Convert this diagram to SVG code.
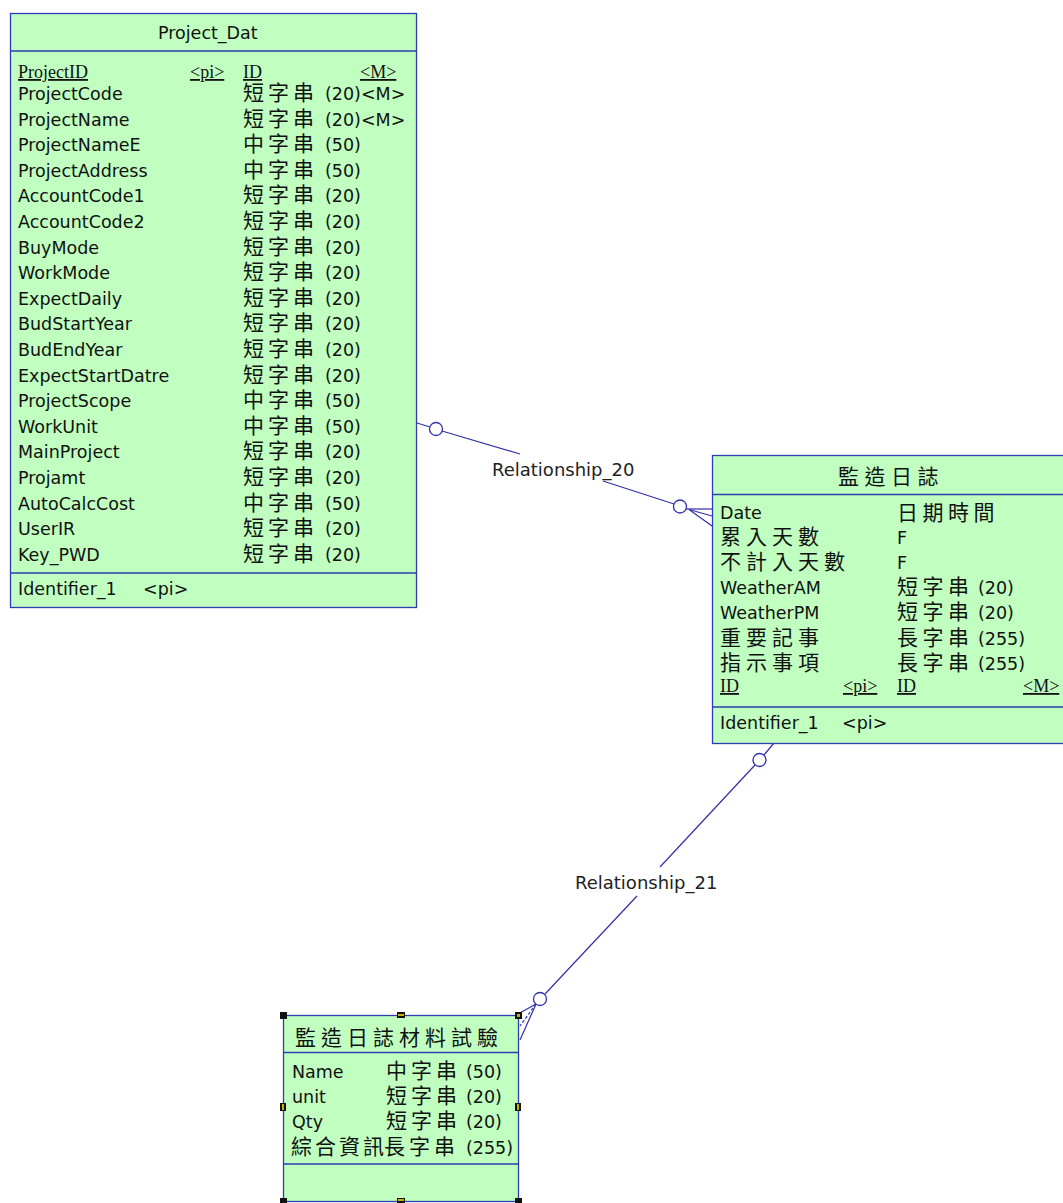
<svg xmlns="http://www.w3.org/2000/svg" width="1063" height="1203" viewBox="0 0 1063 1203">
<style>
.box{fill:#C0FFC0;stroke:#2E3CB4;stroke-width:1.3}
.div{stroke:#2E3CB4;stroke-width:1.3}
.t{font-family:"DejaVu Sans","Liberation Sans",sans-serif;font-size:17.5px;fill:#111}
.lbl{font-family:"DejaVu Sans","Liberation Sans",sans-serif;font-size:18px;fill:#222}
.cj{font-family:"Noto Sans CJK TC","Noto Sans CJK SC",sans-serif;font-size:21px;fill:#111;letter-spacing:4px}
.cjt{font-family:"Noto Sans CJK TC","Noto Sans CJK SC",sans-serif;font-size:21px;fill:#111;letter-spacing:5.5px}
.u{font-family:"Liberation Serif","DejaVu Serif",serif;font-size:18px;fill:#111;text-decoration:underline}
.ln{stroke:#3030A8;stroke-width:1.2;fill:none}
.ring{stroke:#3030A8;stroke-width:1.3;fill:#fff}
.hd{fill:#111}
.hy{fill:#C8B400}
</style>

<g id="connectors">
  <g id="rel20">
    <line class="ln" x1="417" y1="423" x2="430" y2="427"/>
    <line class="ln" x1="442" y1="431" x2="520" y2="454"/>
    <circle class="ring" cx="436" cy="429" r="6.5"/>
    <line class="ln" x1="603" y1="481" x2="674" y2="504"/>
    <circle class="ring" cx="680" cy="506.5" r="6.5"/>
    <line class="ln" x1="686" y1="509" x2="712" y2="509"/>
    <line class="ln" x1="689" y1="509.5" x2="712" y2="516"/>
    <line class="ln" x1="689" y1="509.5" x2="712" y2="526"/>
    <text class="lbl" x="492" y="476">Relationship_20</text>
  </g>
  <g id="rel21">
    <line class="ln" x1="774" y1="743" x2="764" y2="755"/>
    <circle class="ring" cx="759.5" cy="760" r="6.5"/>
    <line class="ln" x1="755" y1="765" x2="660" y2="867"/>
    <line class="ln" x1="637" y1="896" x2="545" y2="994"/>
    <circle class="ring" cx="540" cy="999" r="6.5"/>
    <line class="ln" x1="536" y1="1004" x2="518" y2="1014"/>
    <line class="ln" x1="536" y1="1004" x2="520" y2="1026" stroke-dasharray="3 2"/>
    <line class="ln" x1="536" y1="1004" x2="520" y2="1040"/>
    <text class="lbl" x="575" y="889">Relationship_21</text>
  </g>
</g>

<g id="node-project-dat">
  <rect class="box" x="10.5" y="13.5" width="406" height="594"/>
  <line class="div" x1="10.5" y1="51" x2="416.5" y2="51"/>
  <line class="div" x1="10.5" y1="573" x2="416.5" y2="573"/>
  <text class="t" x="158" y="38.5">Project_Dat</text>
  <text class="u" x="18" y="78">ProjectID</text>
  <text class="u" x="190" y="78">&lt;pi&gt;</text>
  <text class="u" x="243" y="78">ID</text>
  <text class="u" x="360" y="78">&lt;M&gt;</text>

  <text class="t" x="18" y="100">ProjectCode</text><text class="cj" x="243" y="100">短字串</text><text class="t" x="325" y="100">(20)&lt;M&gt;</text>
  <text class="t" x="18" y="125.6">ProjectName</text><text class="cj" x="243" y="125.6">短字串</text><text class="t" x="325" y="125.6">(20)&lt;M&gt;</text>
  <text class="t" x="18" y="151.2">ProjectNameE</text><text class="cj" x="243" y="151.2">中字串</text><text class="t" x="325" y="151.2">(50)</text>
  <text class="t" x="18" y="176.8">ProjectAddress</text><text class="cj" x="243" y="176.8">中字串</text><text class="t" x="325" y="176.8">(50)</text>
  <text class="t" x="18" y="202.4">AccountCode1</text><text class="cj" x="243" y="202.4">短字串</text><text class="t" x="325" y="202.4">(20)</text>
  <text class="t" x="18" y="228">AccountCode2</text><text class="cj" x="243" y="228">短字串</text><text class="t" x="325" y="228">(20)</text>
  <text class="t" x="18" y="253.6">BuyMode</text><text class="cj" x="243" y="253.6">短字串</text><text class="t" x="325" y="253.6">(20)</text>
  <text class="t" x="18" y="279.2">WorkMode</text><text class="cj" x="243" y="279.2">短字串</text><text class="t" x="325" y="279.2">(20)</text>
  <text class="t" x="18" y="304.8">ExpectDaily</text><text class="cj" x="243" y="304.8">短字串</text><text class="t" x="325" y="304.8">(20)</text>
  <text class="t" x="18" y="330.4">BudStartYear</text><text class="cj" x="243" y="330.4">短字串</text><text class="t" x="325" y="330.4">(20)</text>
  <text class="t" x="18" y="356">BudEndYear</text><text class="cj" x="243" y="356">短字串</text><text class="t" x="325" y="356">(20)</text>
  <text class="t" x="18" y="381.6">ExpectStartDatre</text><text class="cj" x="243" y="381.6">短字串</text><text class="t" x="325" y="381.6">(20)</text>
  <text class="t" x="18" y="407.2">ProjectScope</text><text class="cj" x="243" y="407.2">中字串</text><text class="t" x="325" y="407.2">(50)</text>
  <text class="t" x="18" y="432.8">WorkUnit</text><text class="cj" x="243" y="432.8">中字串</text><text class="t" x="325" y="432.8">(50)</text>
  <text class="t" x="18" y="458.4">MainProject</text><text class="cj" x="243" y="458.4">短字串</text><text class="t" x="325" y="458.4">(20)</text>
  <text class="t" x="18" y="484">Projamt</text><text class="cj" x="243" y="484">短字串</text><text class="t" x="325" y="484">(20)</text>
  <text class="t" x="18" y="509.6">AutoCalcCost</text><text class="cj" x="243" y="509.6">中字串</text><text class="t" x="325" y="509.6">(50)</text>
  <text class="t" x="18" y="535.2">UserIR</text><text class="cj" x="243" y="535.2">短字串</text><text class="t" x="325" y="535.2">(20)</text>
  <text class="t" x="18" y="560.8">Key_PWD</text><text class="cj" x="243" y="560.8">短字串</text><text class="t" x="325" y="560.8">(20)</text>

  <text class="t" x="18" y="595">Identifier_1</text>
  <text class="t" x="143" y="595">&lt;pi&gt;</text>
</g>

<g id="node-jianzao-rizhi">
  <rect class="box" x="712.5" y="455.5" width="353" height="288"/>
  <line class="div" x1="712.5" y1="494.5" x2="1065" y2="494.5"/>
  <line class="div" x1="712.5" y1="707" x2="1065" y2="707"/>
  <text class="cjt" x="838" y="483.5">監造日誌</text>

  <text class="t" x="720" y="518.5">Date</text><text class="cj" x="897" y="520" style="letter-spacing:4.5px">日期時間</text>
  <text class="cj" x="720" y="544" style="letter-spacing:5px">累入天數</text><text class="t" x="897" y="544">F</text>
  <text class="cj" x="720" y="569" style="letter-spacing:5px">不計入天數</text><text class="t" x="897" y="569">F</text>
  <text class="t" x="720" y="594">WeatherAM</text><text class="cj" x="897" y="594" style="letter-spacing:4.5px">短字串</text><text class="t" x="978" y="594">(20)</text>
  <text class="t" x="720" y="619">WeatherPM</text><text class="cj" x="897" y="619" style="letter-spacing:4.5px">短字串</text><text class="t" x="978" y="619">(20)</text>
  <text class="cj" x="720" y="645" style="letter-spacing:5px">重要記事</text><text class="cj" x="897" y="645" style="letter-spacing:4.5px">長字串</text><text class="t" x="978" y="645">(255)</text>
  <text class="cj" x="720" y="670" style="letter-spacing:5px">指示事項</text><text class="cj" x="897" y="670" style="letter-spacing:4.5px">長字串</text><text class="t" x="978" y="670">(255)</text>
  <text class="u" x="720" y="692">ID</text>
  <text class="u" x="843" y="692">&lt;pi&gt;</text>
  <text class="u" x="897" y="692">ID</text>
  <text class="u" x="1023" y="692">&lt;M&gt;</text>

  <text class="t" x="720" y="729">Identifier_1</text>
  <text class="t" x="842" y="729">&lt;pi&gt;</text>
</g>

<g id="node-cailiao-shiyan">
  <rect class="box" x="283.5" y="1015.5" width="235" height="186"/>
  <line class="div" x1="283.5" y1="1052.5" x2="518.5" y2="1052.5"/>
  <line class="div" x1="283.5" y1="1164" x2="518.5" y2="1164"/>
  <text class="cj" x="295" y="1045" style="letter-spacing:5px">監造日誌材料試驗</text>

  <text class="t" x="292" y="1078">Name</text><text class="cj" x="386" y="1078">中字串</text><text class="t" x="466" y="1078">(50)</text>
  <text class="t" x="292" y="1103">unit</text><text class="cj" x="386" y="1103">短字串</text><text class="t" x="466" y="1103">(20)</text>
  <text class="t" x="292" y="1128">Qty</text><text class="cj" x="386" y="1128">短字串</text><text class="t" x="466" y="1128">(20)</text>
  <text class="cj" x="291" y="1154" style="letter-spacing:3px">綜合資訊</text><text class="cj" x="384" y="1154">長字串</text><text class="t" x="466" y="1154">(255)</text>

  <g id="handles">
    <rect class="hd" x="280" y="1012" width="7" height="7"/>
    <rect class="hd" x="397" y="1012" width="8" height="6"/><rect class="hy" x="398" y="1014" width="6" height="2"/>
    <rect class="hd" x="515" y="1012" width="7" height="7"/><rect class="hy" x="517" y="1014" width="3" height="3"/>
    <rect class="hd" x="280" y="1103" width="6" height="8"/><rect class="hy" x="282" y="1104" width="2" height="6"/>
    <rect class="hd" x="515" y="1103" width="6" height="8"/><rect class="hy" x="517" y="1104" width="2" height="6"/>
    <rect class="hd" x="280" y="1198" width="7" height="5"/>
    <rect class="hd" x="397" y="1198" width="8" height="5"/><rect class="hy" x="398" y="1199" width="6" height="2"/>
    <rect class="hd" x="515" y="1198" width="7" height="5"/>
  </g>
</g>
</svg>
